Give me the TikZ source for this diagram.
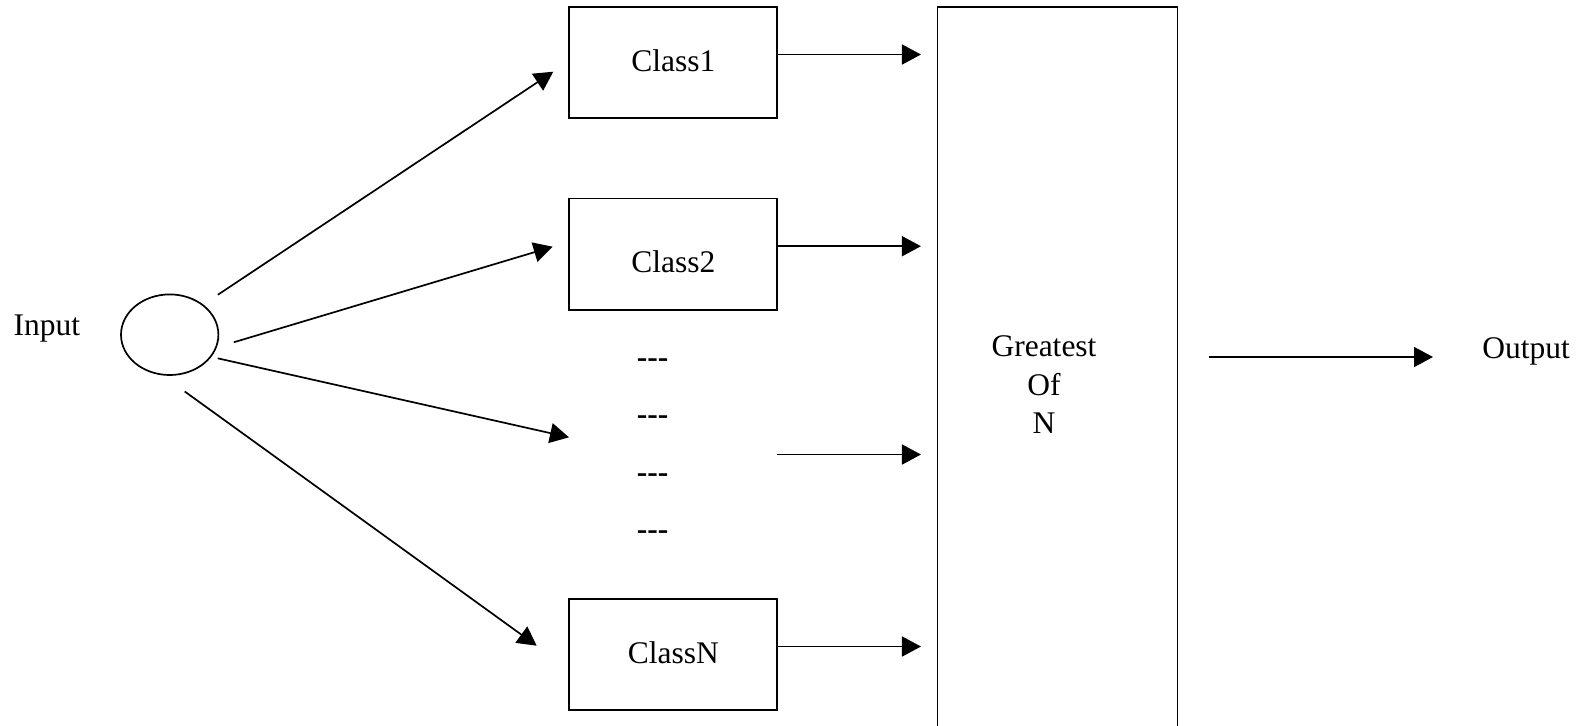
\documentclass[tikz,border=0pt]{standalone}
\usepackage{fontspec}
\setmainfont{Liberation Serif}
\usetikzlibrary{arrows.meta,shapes.geometric,calc}
\newcommand\diagfont{\fontsize{15.75}{19.25}\selectfont}
\begin{document}
\begin{tikzpicture}[x=0.5pt,y=-0.5pt,
  lbl/.style={inner sep=0pt, font=\diagfont},
  cbox/.style={draw, line width=0.85pt, minimum width=104pt, minimum height=55.8pt, inner sep=0pt, font=\diagfont, text height=11pt, text depth=2.5pt},
  arr/.style={line width=0.85pt, -{Triangle[length=9.5pt,width=10pt]}}]
\useasboundingbox (0,0) rectangle (1589,725);

% class boxes
\node[cbox] (c1) at (673.3,62.5) {Class1};
\node[cbox, text height=18pt, text depth=0pt] (c2) at (673.3,254.2) {Class2};
\node[cbox] (cn) at (673.3,654.5) {ClassN};

% big box
\node[draw, line width=0.85pt, minimum width=120.1pt, minimum height=370pt, inner sep=0pt] (G) at (1057.5,377.1) {};
\node[lbl, align=center] (gt) at (1044,385) {Greatest\\Of\\N};

% input
\node[ellipse, draw, line width=0.85pt, minimum width=48.7pt, minimum height=40.3pt, inner sep=0pt] (in) at (169.7,334.7) {};
\node[lbl, anchor=base west] (inlbl) at (13.3,335) {Input};
\node[lbl, anchor=base west] (out) at (1482,358.5) {Output};

% dashes
\node[lbl, anchor=base, font=\diagfont\bfseries] (d1) at (652.5,367) {-{}-{}-};
\node[lbl, anchor=base, font=\diagfont\bfseries] (d2) at (652.5,424.7) {-{}-{}-};
\node[lbl, anchor=base, font=\diagfont\bfseries] (d3) at (652.5,482.7) {-{}-{}-};
\node[lbl, anchor=base, font=\diagfont\bfseries] (d4) at (652.5,539.3) {-{}-{}-};

% class -> G arrows
\coordinate (a1) at ([yshift=4pt]c1.east);
\coordinate (a2) at ([yshift=4pt]c2.east);
\coordinate (ds) at (777.3,454.5);
\coordinate (an) at ([yshift=4pt]cn.east);
\draw[arr, shorten >=7.8pt] (a1) -- (a1 -| G.west);
\draw[arr, shorten >=7.8pt] (a2) -- (a2 -| G.west);
\draw[arr, shorten >=7.8pt] (ds) -- (ds -| G.west);
\draw[arr, shorten >=7.8pt] (an) -- (an -| G.west);

% output arrow
\coordinate (o1) at (1209,357);
\draw[arr, shorten >=24.5pt] (o1) -- (o1 -| out.west);

% input arrows
\coordinate (t1) at (553.3,71.7);
\coordinate (t2) at (552.7,246.7);
\coordinate (t3) at (569,437.3);
\coordinate (t4) at (536.7,645.7);
\draw[arr, shorten <=8.75pt] (in.42.8) -- (t1);
\draw[arr, shorten <=8.85pt] (in.-15.9) -- (t2);
\draw[arr, shorten <=3.25pt] (in.-28.6) -- (t3);
\draw[arr, shorten <=13.7pt] (in.260.2) -- (t4);
\end{tikzpicture}
\end{document}
